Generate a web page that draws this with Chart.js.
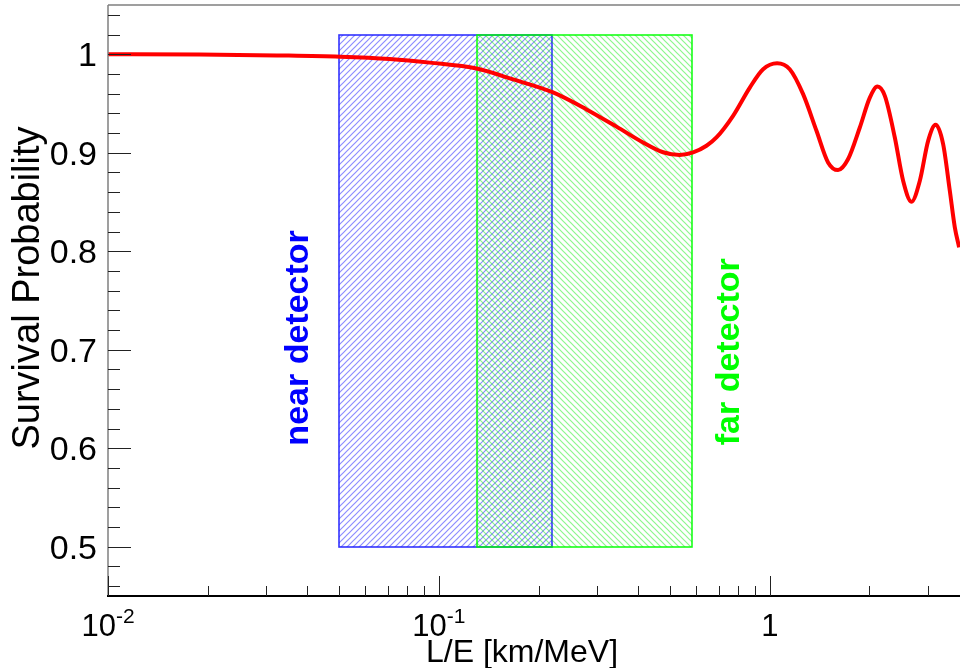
<!DOCTYPE html>
<html>
<head>
<meta charset="utf-8">
<script src="https://cdn.jsdelivr.net/npm/chart.js@4.4.1/dist/chart.umd.min.js"></script>
<style>
  html, body { margin: 0; padding: 0; overflow: hidden; background: #fff; }
  canvas { display: block; }
</style>
</head>
<body>
<canvas id="survival" width="980" height="668"></canvas>
<script>
// values: L/E in km/MeV and survival probability
const loverE = [0.01, 0.0189, 0.0324, 0.0502, 0.0710, 0.0938, 0.130, 0.1675, 0.2213, 0.2793,
  0.3441, 0.414, 0.476, 0.5346, 0.5865, 0.6437, 0.690, 0.7746, 0.8703, 0.9546,
  1.052, 1.149, 1.261, 1.384, 1.500, 1.608, 1.725, 1.871, 2.006, 2.116,
  2.227, 2.387, 2.529, 2.681, 2.841, 3.010, 3.173, 3.341, 3.500, 3.624, 3.734];
const survival = [1.000, 0.9998, 0.9988, 0.9975, 0.9952, 0.9915, 0.9855, 0.9745, 0.9612, 0.9440,
  0.9265, 0.9104, 0.9005, 0.8977, 0.9003, 0.9071, 0.9155, 0.9375, 0.9662, 0.9848,
  0.9909, 0.9848, 0.9595, 0.9223, 0.8902, 0.8824, 0.8936, 0.9256, 0.9560, 0.9672,
  0.9577, 0.9155, 0.8716, 0.8503, 0.8716, 0.9121, 0.9284, 0.9088, 0.8615, 0.8243, 0.8040];

const yTicks = [0.5, 0.6, 0.7, 0.8, 0.9, 1];
const yTickLabels = ["0.5", "0.6", "0.7", "0.8", "0.9", "1"];
const xDecades = [0.01, 0.1, 1];
const xDecadeLabels = [["10", "-2"], ["10", "-1"], ["1", ""]];

// detector regions (L/E range) and their common height
const nearRange = [0.05, 0.22];
const farRange = [0.13, 0.58];
const boxRange = [0.5, 1.02];
const nearLabelAt = [0.0402, 0.712];
const farLabelAt = [0.808, 0.698];

const FONT = "'Liberation Sans', Arial, Helvetica, sans-serif";

// hatch tile, like ROOT's fill styles 3004 / 3005
function hatch(ctx, color, dir) {
  const s = 6;
  const c = document.createElement('canvas');
  c.width = s; c.height = s;
  const g = c.getContext('2d');
  g.strokeStyle = color;
  g.lineWidth = 1.2;
  g.beginPath();
  if (dir > 0) {
    g.moveTo(-1, s + 1); g.lineTo(s + 1, -1);
    g.moveTo(-1, 1); g.lineTo(1, -1);
    g.moveTo(s - 1, s + 1); g.lineTo(s + 1, s - 1);
  } else {
    g.moveTo(-1, -1); g.lineTo(s + 1, s + 1);
    g.moveTo(s - 1, -1); g.lineTo(s + 1, 1);
    g.moveTo(-1, s - 1); g.lineTo(1, s + 1);
  }
  g.stroke();
  return ctx.createPattern(c, 'repeat');
}

function drawBox(ctx, x, y, range, pattern, color) {
  const x0 = Math.round(x.getPixelForValue(range[0])), x1 = Math.round(x.getPixelForValue(range[1]));
  const y0 = Math.round(y.getPixelForValue(boxRange[1])), y1 = Math.round(y.getPixelForValue(boxRange[0]));
  ctx.fillStyle = pattern;
  ctx.fillRect(x0, y0, x1 - x0, y1 - y0);
  ctx.strokeStyle = color;
  ctx.lineWidth = 1.6;
  ctx.strokeRect(x0, y0, x1 - x0, y1 - y0);
}

function vText(ctx, text, px, py, font, color) {
  ctx.save();
  ctx.translate(px, py);
  ctx.rotate(-Math.PI / 2);
  ctx.font = font;
  ctx.fillStyle = color;
  ctx.textAlign = 'center';
  ctx.textBaseline = 'alphabetic';
  ctx.fillText(text, 0, 0);
  ctx.restore();
}

const rootFrame = {
  id: 'rootFrame',
  beforeDatasetsDraw(chart) {
    const { ctx, scales: { x, y } } = chart;
    ctx.save();
    drawBox(ctx, x, y, nearRange, hatch(ctx, 'rgba(0,0,255,0.45)', 1), 'rgba(30,30,255,0.9)');
    drawBox(ctx, x, y, farRange, hatch(ctx, 'rgba(0,235,0,0.45)', -1), 'rgba(0,255,0,0.9)');
    ctx.restore();
  },
  afterDatasetsDraw(chart) {
    const { ctx, chartArea: a, scales: { x, y } } = chart;
    ctx.save();

    // frame
    ctx.strokeStyle = '#808080';
    ctx.lineWidth = 1.5;
    ctx.beginPath();
    ctx.moveTo(a.left, a.top); ctx.lineTo(a.right, a.top);
    ctx.moveTo(a.left, a.top); ctx.lineTo(a.left, a.bottom);
    ctx.stroke();
    ctx.strokeStyle = '#000';
    ctx.lineWidth = 2;
    ctx.beginPath();
    ctx.moveTo(a.left - 1, a.bottom); ctx.lineTo(a.right, a.bottom);
    ctx.stroke();

    // y ticks, pointing inward
    ctx.strokeStyle = '#222';
    ctx.lineWidth = 1;
    ctx.beginPath();
    for (let k = 23; k <= 52; k++) {
      const v = k / 50;
      const py = Math.round(y.getPixelForValue(v)) + 0.5;
      const len = (k % 5 === 0) ? 23 : 12;
      ctx.moveTo(a.left, py); ctx.lineTo(a.left + len, py);
    }
    // x ticks
    for (let d = -2; d <= 0; d++) {
      for (let m = 1; m <= 9; m++) {
        const v = m * Math.pow(10, d);
        if (v > x.max) break;
        const px = Math.round(x.getPixelForValue(v)) + 0.5;
        const len = (m === 1) ? 20 : 10;
        ctx.moveTo(px, a.bottom); ctx.lineTo(px, a.bottom - len);
      }
    }
    ctx.stroke();

    // y tick labels
    ctx.fillStyle = '#000';
    ctx.font = '34px ' + FONT;
    ctx.textAlign = 'right';
    ctx.textBaseline = 'alphabetic';
    yTicks.forEach((v, i) => {
      ctx.fillText(yTickLabels[i], a.left - 11, y.getPixelForValue(v) + 12);
    });

    // x tick labels with exponents
    ctx.textAlign = 'left';
    xDecades.forEach((v, i) => {
      const [base, exp] = xDecadeLabels[i];
      ctx.font = '31px ' + FONT;
      const wb = ctx.measureText(base).width;
      ctx.font = '21px ' + FONT;
      const we = exp ? ctx.measureText(exp).width : 0;
      const left = x.getPixelForValue(v) - (wb + we) / 2;
      ctx.font = '31px ' + FONT;
      ctx.fillText(base, left, 636);
      if (exp) {
        ctx.font = '21px ' + FONT;
        ctx.fillText(exp, left + wb, 623);
      }
    });

    // axis titles
    ctx.font = '32px ' + FONT;
    ctx.textAlign = 'center';
    ctx.fillText('L/E [km/MeV]', 522, 662);
    vText(ctx, 'Survival Probability', 39, 288, '38px ' + FONT, '#000');

    // detector labels
    const bold = 'bold 34px ' + FONT;
    vText(ctx, 'near detector', x.getPixelForValue(nearLabelAt[0]), y.getPixelForValue(nearLabelAt[1]), bold, '#0000ff');
    vText(ctx, 'far detector', x.getPixelForValue(farLabelAt[0]), y.getPixelForValue(farLabelAt[1]), bold, '#00ff00');

    ctx.restore();
  }
};

const chart = new Chart(document.getElementById('survival').getContext('2d'), {
  type: 'line',
  data: {
    datasets: [{
      data: loverE.map((v, i) => ({ x: v, y: survival[i] })),
      borderColor: '#ff0000',
      borderWidth: 4,
      pointRadius: 0,
      cubicInterpolationMode: 'monotone',
      fill: false
    }]
  },
  options: {
    responsive: false,
    animation: false,
    devicePixelRatio: 1,
    layout: { padding: { left: 108, top: 5, right: 11, bottom: 72 } },
    plugins: { legend: { display: false }, tooltip: { enabled: false } },
    scales: {
      x: { type: 'logarithmic', min: 0.01, max: 4, display: false },
      y: { type: 'linear', min: 0.45, max: 1.05, display: false }
    }
  },
  plugins: [rootFrame]
});
</script>
</body>
</html>
